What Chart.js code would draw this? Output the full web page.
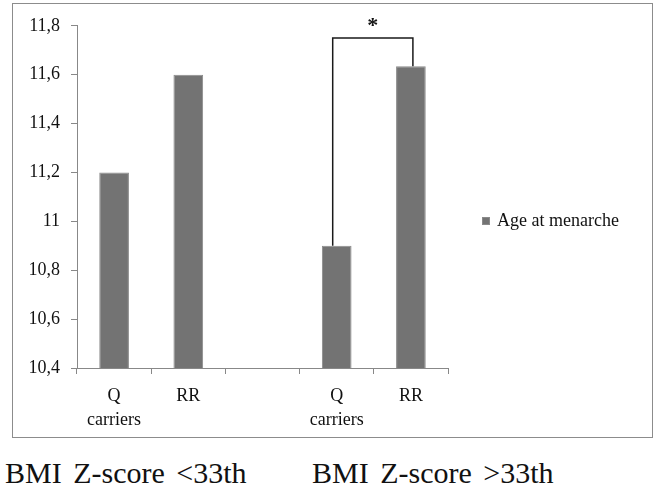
<!DOCTYPE html>
<html>
<head>
<meta charset="utf-8">
<script src="https://cdn.jsdelivr.net/npm/chart.js@4.4.0/dist/chart.umd.min.js"></script>
<style>
  body { margin: 0; background: #fff; width: 656px; height: 491px; position: relative; overflow: hidden; font-family: 'Liberation Serif', 'Times New Roman', serif; }
  #frame { position: absolute; left: 12px; top: 3px; width: 641px; height: 435px; border: 1px solid #8c8c8c; box-sizing: border-box; }
  #chart-box { position: relative; width: 639px; height: 433px; }
  #legend { position: absolute; left: 482px; top: 209px; font-size: 18px; line-height: 22px; color: #111; white-space: nowrap; }
  #legend .swatch { display: inline-block; width: 8px; height: 8px; margin-right: 7px; vertical-align: 1px; box-sizing: border-box; }
  .group-label { position: absolute; top: 458px; font-size: 30px; line-height: 30px; color: #111; word-spacing: 4px; white-space: nowrap; }
</style>
</head>
<body>
<div id="frame">
  <div id="chart-box"><canvas id="menarche-chart"></canvas></div>
</div>
<div id="legend"></div>
<div class="group-label" id="group-0" style="left:5px"></div>
<div class="group-label" id="group-1" style="left:312px"></div>

<script>
// values
const categories = [['Q', 'carriers'], 'RR', '', ['Q', 'carriers'], 'RR'];
const ageAtMenarche = [11.2, 11.6, null, 10.9, 11.635];
const seriesLabel = 'Age at menarche';
const groupLabels = ['BMI Z-score <33th', 'BMI Z-score >33th'];
const yMin = 10.4;
const yMax = 11.8;
const yStep = 0.2;
// significance bracket: between categories 3 and 4, drawn at this y value
const bracketPair = [3, 4];
const bracketLevel = 11.75;
const bracketMark = '*';

const FONT = "'Liberation Serif', 'Times New Roman', serif";

groupLabels.forEach((txt, i) => {
  document.getElementById('group-' + i).textContent = txt;
});

const bracketPlugin = {
  id: 'bracket',
  afterDatasetsDraw(chart) {
    const { ctx, scales } = chart;
    const x = scales.x, y = scales.y;
    const [a, b] = bracketPair;
    const xa = x.getPixelForValue(a) - 4;
    const xb = x.getPixelForValue(b) + 2;
    const yTop = y.getPixelForValue(bracketLevel);
    ctx.save();
    ctx.strokeStyle = '#1a1a1a';
    ctx.lineWidth = 1.5;
    ctx.beginPath();
    ctx.moveTo(xa, y.getPixelForValue(ageAtMenarche[a]));
    ctx.lineTo(xa, yTop);
    ctx.lineTo(xb, yTop);
    ctx.lineTo(xb, y.getPixelForValue(ageAtMenarche[b]));
    ctx.stroke();
    ctx.fillStyle = '#111';
    ctx.font = 'bold 22px ' + FONT;
    ctx.textAlign = 'center';
    ctx.textBaseline = 'middle';
    ctx.fillText(bracketMark, (xa + xb) / 2, yTop - 12);
    ctx.restore();
  }
};

// legend built from the chart's own datasets
const htmlLegend = {
  id: 'htmlLegend',
  afterUpdate(chart) {
    const box = document.getElementById('legend');
    box.innerHTML = chart.data.datasets.map(ds => `
      <div><span class="swatch" style="background:${ds.backgroundColor};border:1px solid ${ds.borderColor}"></span>${ds.label}</div>
    `).join('');
  }
};

const fmt = v => Number(v.toFixed(1)).toString().replace('.', ',');

new Chart(document.getElementById('menarche-chart'), {
  type: 'bar',
  data: {
    labels: categories,
    datasets: [{
      label: seriesLabel,
      data: ageAtMenarche,
      backgroundColor: '#737373',
      borderColor: '#8a8a8a',
      borderWidth: 1,
      barPercentage: 0.4,
      categoryPercentage: 1.0
    }]
  },
  options: {
    responsive: true,
    maintainAspectRatio: false,
    animation: false,
    layout: { padding: { top: 20, left: 0, right: 204, bottom: 0 } },
    plugins: {
      legend: { display: false },
      tooltip: { enabled: false }
    },
    scales: {
      x: {
        grid: { offset: true, drawOnChartArea: false, tickLength: 6, color: '#888' },
        border: { color: '#888', width: 1 },
        ticks: {
          padding: 11,
          color: '#111',
          maxRotation: 0,
          autoSkip: false,
          font: { family: FONT, size: 18, lineHeight: 1.3 }
        },
        afterFit: scale => { scale.height = 69; }
      },
      y: {
        min: yMin,
        max: yMax,
        grid: { drawOnChartArea: false, tickLength: 6, color: '#888' },
        border: { color: '#888', width: 1 },
        ticks: {
          stepSize: yStep,
          padding: 11,
          color: '#111',
          font: { family: FONT, size: 18 },
          callback: v => fmt(v)
        },
        afterFit: scale => { scale.width = 64; }
      }
    }
  },
  plugins: [bracketPlugin, htmlLegend]
});
</script>
</body>
</html>
